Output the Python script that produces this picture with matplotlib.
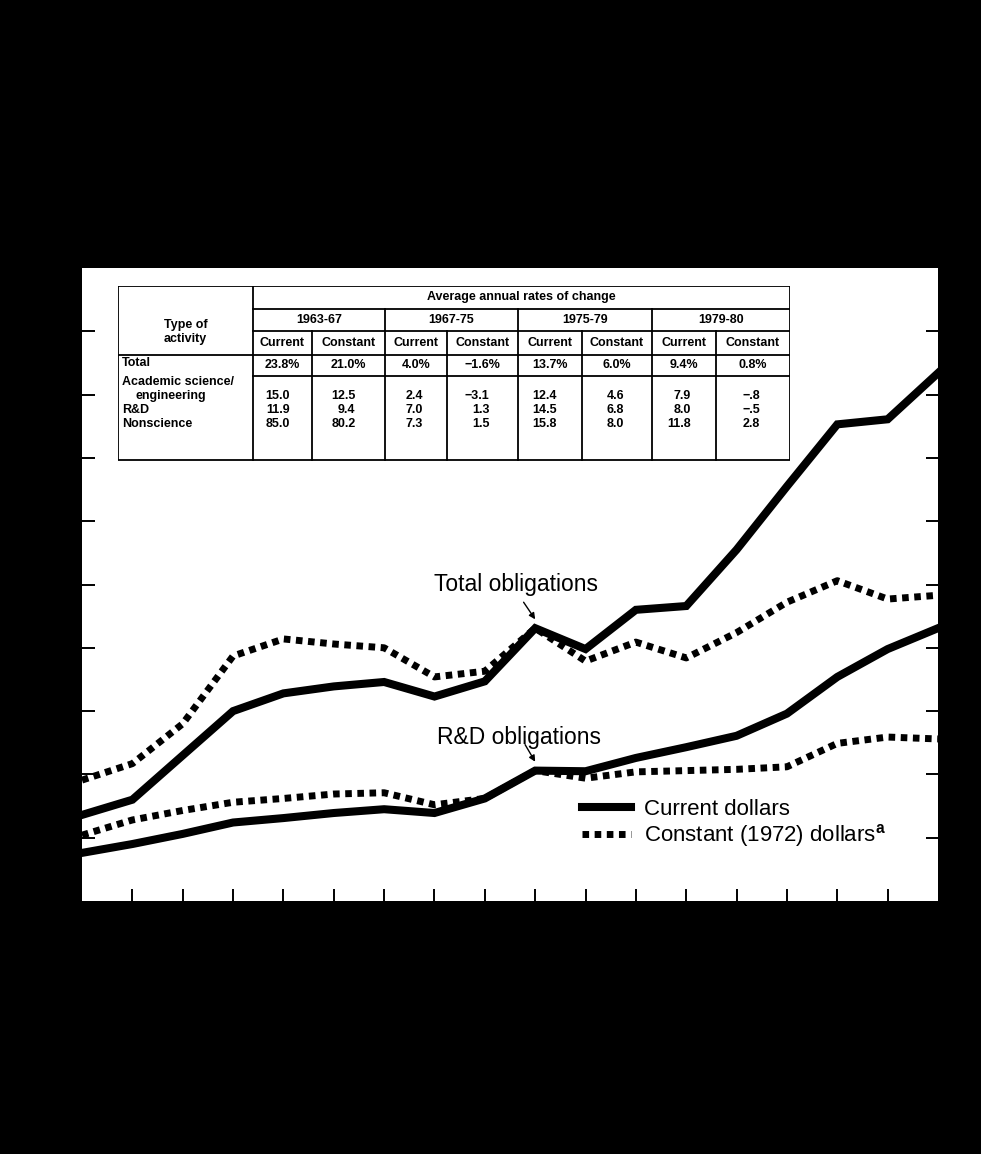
import matplotlib
matplotlib.use('Agg')
import matplotlib.pyplot as plt
from matplotlib.lines import Line2D

plt.rcParams['font.family'] = ['Liberation Sans', 'DejaVu Sans']
plt.rcParams['mathtext.fontset'] = 'custom'
plt.rcParams['mathtext.bf'] = 'Liberation Sans:bold'

# ── data (arbitrary units, 0..10) ────────────────────────────────
years = list(range(1963, 1981))
total_current = [1.36, 1.60, 2.30, 3.00, 3.28, 3.39, 3.46, 3.23, 3.47,
                 4.31, 3.98, 4.60, 4.66, 5.55, 6.55, 7.53, 7.61, 8.34]
total_constant = [1.91, 2.17, 2.80, 3.87, 4.14, 4.06, 4.00, 3.54, 3.63,
                  4.31, 3.79, 4.09, 3.84, 4.24, 4.72, 5.06, 4.77, 4.83]
rd_current = [0.76, 0.90, 1.06, 1.24, 1.31, 1.39, 1.45, 1.39, 1.62,
              2.06, 2.05, 2.26, 2.43, 2.61, 2.96, 3.54, 3.98, 4.31]
rd_constant = [1.04, 1.28, 1.43, 1.56, 1.62, 1.69, 1.71, 1.52, 1.62,
               2.06, 1.94, 2.04, 2.06, 2.08, 2.12, 2.49, 2.59, 2.56]

# inset table
periods = ['1963-67', '1967-75', '1975-79', '1979-80']
subcols = ['Current', 'Constant']
total_row = ['23.8%', '21.0%', '4.0%', '\u22121.6%', '13.7%', '6.0%', '9.4%', '0.8%']
academic_row = ['15.0', '12.5', '2.4', '\u22123.1', '12.4', '4.6', '7.9', '\u2212.8']
rd_row = ['11.9', '9.4', '7.0', '1.3', '14.5', '6.8', '8.0', '\u2212.5']
nonsci_row = ['85.0', '80.2', '7.3', '1.5', '15.8', '8.0', '11.8', '2.8']

W, H = 981, 1154
fig = plt.figure(figsize=(W / 100, H / 100), dpi=100, facecolor='black')

# ── main chart ───────────────────────────────────────────
L, R, T, B = 82, 938, 268, 901
ax = fig.add_axes([L / W, 1 - B / H, (R - L) / W, (B - T) / H])
ax.set_facecolor('white')
for s in ax.spines.values():
    s.set_visible(False)

DOTS = (0.95, 0.8)
ax.plot(years, total_current, color='black', lw=5.8, solid_joinstyle='miter')
ax.plot(years, rd_current, color='black', lw=5.8, solid_joinstyle='miter')
ax.plot(years, total_constant, color='black', lw=5, dashes=DOTS)
ax.plot(years, rd_constant, color='black', lw=5, dashes=DOTS)

ax.set_xlim(1963, 1980)
ax.set_ylim(0, 10)
ax.set_xticks(range(1964, 1980))
ax.set_yticks(range(1, 10))
ax.tick_params(axis='both', direction='in', length=9, width=1.4,
               labelbottom=False, labelleft=False, color='black')
ax.tick_params(axis='y', right=True)

ax.text(1970.0, 5.0, 'Total obligations', fontsize=16.5, ha='left', va='center')
ax.annotate('', xy=(1972, 4.45), xytext=(1971.77, 4.72),
            arrowprops=dict(arrowstyle='-|>', lw=1, color='black',
                            mutation_scale=9, shrinkA=0, shrinkB=0))
ax.text(1970.05, 2.58, 'R&D obligations', fontsize=16.5, ha='left', va='center')
ax.annotate('', xy=(1972, 2.2), xytext=(1971.8, 2.47),
            arrowprops=dict(arrowstyle='-|>', lw=1, color='black',
                            mutation_scale=9, shrinkA=0, shrinkB=0))

handles = [Line2D([], [], color='black', lw=5.8),
           Line2D([], [], color='black', lw=5, dashes=DOTS)]
ax.legend(handles, ['Current dollars', r'Constant (1972) dollars$^{\mathbf{a}}$'],
          loc='center left', bbox_to_anchor=(0.584, 0.122), frameon=False,
          fontsize=16, handlelength=2.2, handletextpad=0.6,
          labelspacing=0.1, borderpad=0, borderaxespad=0)

# ── inset table (drawn in local pixel units) ───────────────
tx, ty, tw, th = 118, 286, 672, 176
tab = fig.add_axes([tx / W, 1 - (ty + th) / H, tw / W, th / H])
tab.set_xlim(0, tw)
tab.set_ylim(th, 0)
tab.axis('off')

cols = [0, 135, 194, 267, 329, 400, 464, 534, 598, 672]
rows = [0, 23, 45, 69, 90, 174]
lk = dict(color='black', lw=1.3)

tab.plot([0, tw, tw, 0, 0], [0, 0, rows[-1], rows[-1], 0], **lk)
tab.plot([cols[1], cols[1]], [0, rows[-1]], **lk)
for yy in (rows[1], rows[2], rows[4]):
    tab.plot([cols[1], tw], [yy, yy], **lk)
tab.plot([0, tw], [rows[3], rows[3]], **lk)
for xx in (cols[3], cols[5], cols[7]):
    tab.plot([xx, xx], [rows[1], rows[-1]], **lk)
for xx in (cols[2], cols[4], cols[6], cols[8]):
    tab.plot([xx, xx], [rows[2], rows[-1]], **lk)

fs = 9
tk = dict(fontsize=fs, fontweight='bold', va='center')
tab.text((cols[1] + tw) / 2, rows[1] / 2, 'Average annual rates of change', ha='center', **tk)
tab.text(cols[1] / 2, 39, 'Type of', ha='center', **tk)
tab.text(cols[1] / 2, 53, 'activity', ha='center', **tk)
for i, p in enumerate(periods):
    c0, c1 = cols[1 + 2 * i], cols[3 + 2 * i]
    tab.text((c0 + c1) / 2, (rows[1] + rows[2]) / 2, p, ha='center', **tk)
for j in range(8):
    c0, c1 = cols[1 + j], cols[2 + j]
    tab.text((c0 + c1) / 2, (rows[2] + rows[3]) / 2, subcols[j % 2], ha='center', **tk)
    tab.text((c0 + c1) / 2, (rows[3] + rows[4]) / 2, total_row[j], ha='center', **tk)
    for yy, row in ((110, academic_row), (124, rd_row), (138, nonsci_row)):
        tab.text((c0 + c1) / 2 + 7, yy, row[j], ha='right', **tk)

tab.text(4, 77, 'Total', ha='left', **tk)
tab.text(4, 96, 'Academic science/', ha='left', **tk)
tab.text(18, 110, 'engineering', ha='left', **tk)
tab.text(4, 124, 'R&D', ha='left', **tk)
tab.text(4, 138, 'Nonscience', ha='left', **tk)

fig.savefig('out.png', dpi=100, facecolor='black')
